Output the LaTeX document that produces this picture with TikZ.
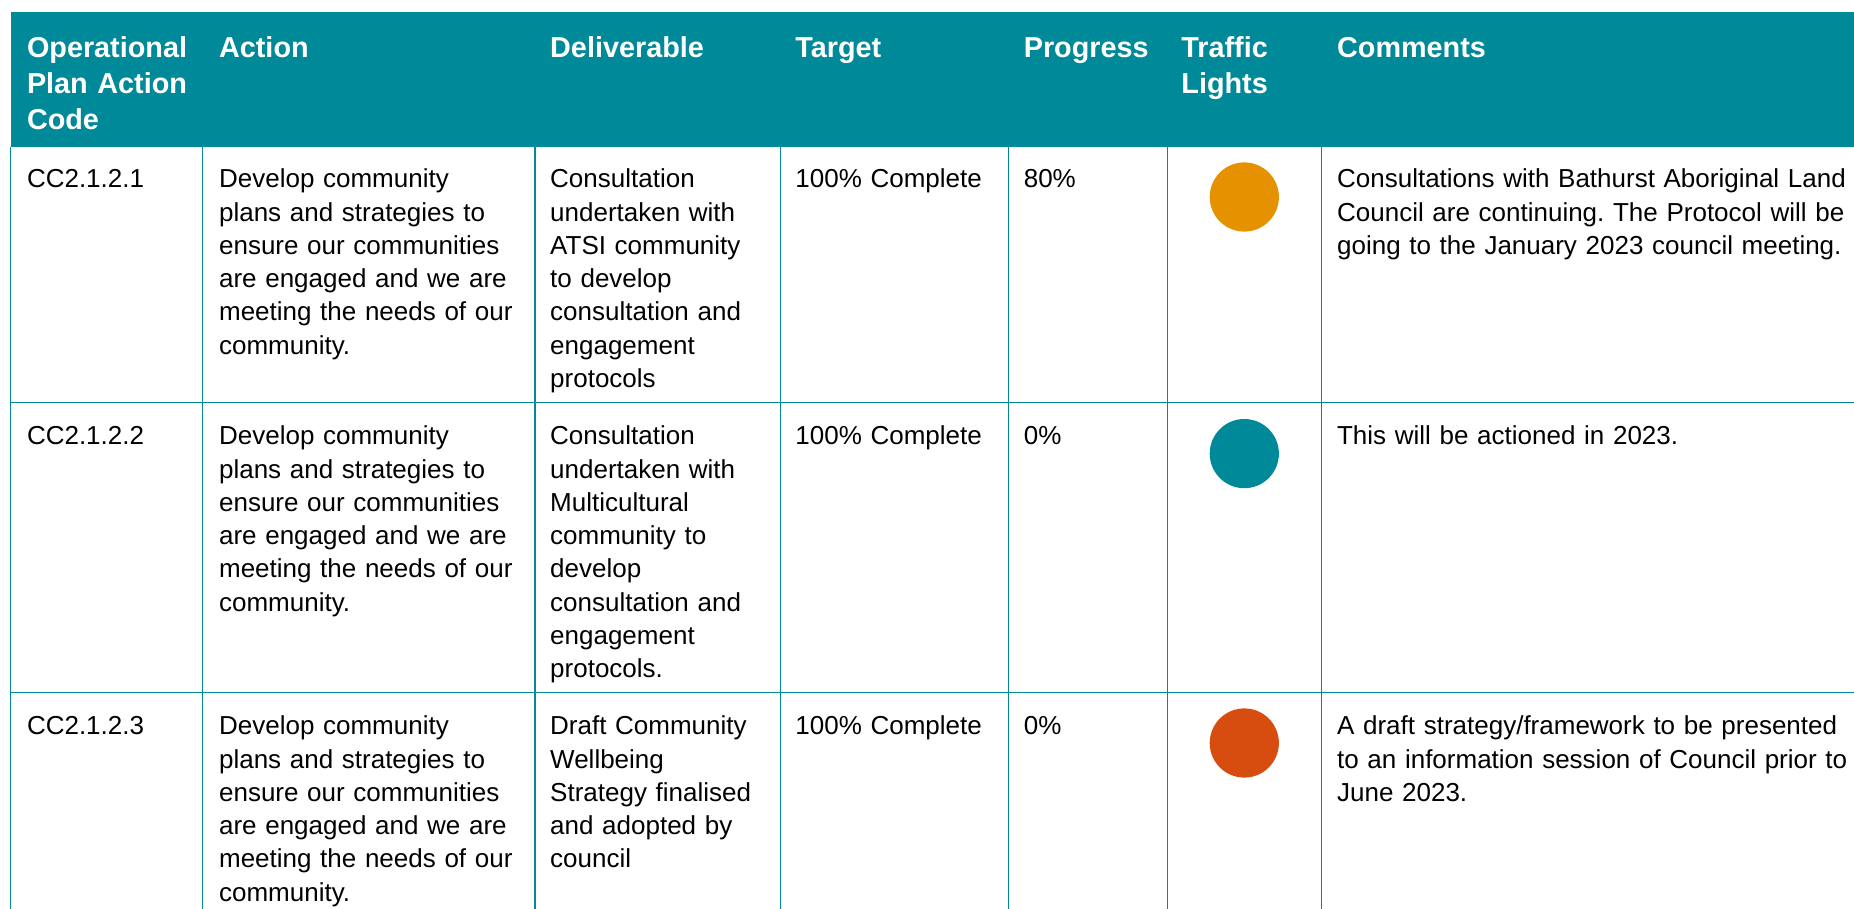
\documentclass[tikz,border=0pt]{standalone}
\usepackage{fontspec}
\setmainfont{Liberation Sans}
\definecolor{opteal}{HTML}{008A99}
\definecolor{lampamber}{HTML}{E69200}
\definecolor{lampred}{HTML}{D64D0F}
\frenchspacing

\begin{document}
\begin{tikzpicture}[x=0.5pt, y=-0.5pt]
  \tikzset{
    tablerule/.style={draw=opteal, line width=0.6pt},
    head/.style={anchor=north west, inner sep=0pt, text=white, text width=330pt, align=left,
      font=\fontsize{14.4}{18}\selectfont\bfseries, execute at begin node=\strut},
    cell/.style={anchor=north west, inner sep=0pt, text width=330pt, align=left,
      font=\fontsize{13}{16.65}\selectfont, execute at begin node=\strut},
    lamp/.style={circle, fill=#1, minimum size=34.6pt, inner sep=0pt}
  }
  \useasboundingbox (0,0) rectangle (1854,909);

  % header band and rules
  \fill[opteal] (10.6,11.7) rectangle (1854,146.7);
  \foreach \xx in {10.6,202.8,535,780.4,1008.6,1167.6,1321.3}
    \draw[tablerule] (\xx,146.7) -- (\xx,909);
  \foreach \yy in {402.3,692.3}
    \draw[tablerule] (10.6,\yy) -- (1854,\yy);

  % header
  \node[head] (hcode) at (26.6,32.1) {Operational\\Plan Action\\Code};
  \node[head] (haction) at (218.7,32.1) {Action};
  \node[head] (hdeliv) at (549.8,32.1) {Deliverable};
  \node[head] (htarget) at (795,32.1) {Target};
  \node[head] (hprog) at (1023.4,32.1) {Progress};
  \node[head] (hlights) at (1181,32.1) {Traffic\\Lights};
  \node[head] (hcomm) at (1336.7,32.1) {Comments};

  % row 1
  \node[cell] (code1) at (26.6,164) {CC2.1.2.1};
  \node[cell] (action1) at (218.7,164) {Develop community\\plans and strategies to\\ensure our communities\\are engaged and we are\\meeting the needs of our\\community.};
  \node[cell] (deliv1) at (549.8,164) {Consultation\\undertaken with\\ATSI community\\to develop\\consultation and\\engagement\\protocols};
  \node[cell] (target1) at (795,164) {100\% Complete};
  \node[cell] (prog1) at (1023.4,164) {80\%};
  \node[lamp=lampamber] (lamp1) at (1244.3,197) {};
  \node[cell] (comm1) at (1336.7,164) {Consultations with Bathurst Aboriginal Land\\Council are continuing. The Protocol will be\\going to the January 2023 council meeting.};

  % row 2
  \node[cell] (code2) at (26.6,421) {CC2.1.2.2};
  \node[cell] (action2) at (218.7,421) {Develop community\\plans and strategies to\\ensure our communities\\are engaged and we are\\meeting the needs of our\\community.};
  \node[cell] (deliv2) at (549.8,421) {Consultation\\undertaken with\\Multicultural\\community to\\develop\\consultation and\\engagement\\protocols.};
  \node[cell] (target2) at (795,421) {100\% Complete};
  \node[cell] (prog2) at (1023.4,421) {0\%};
  \node[lamp=opteal] (lamp2) at (1244.3,453.6) {};
  \node[cell] (comm2) at (1336.7,421) {This will be actioned in 2023.};

  % row 3
  \node[cell] (code3) at (26.6,711) {CC2.1.2.3};
  \node[cell] (action3) at (218.7,711) {Develop community\\plans and strategies to\\ensure our communities\\are engaged and we are\\meeting the needs of our\\community.};
  \node[cell] (deliv3) at (549.8,711) {Draft Community\\Wellbeing\\Strategy finalised\\and adopted by\\council};
  \node[cell] (target3) at (795,711) {100\% Complete};
  \node[cell] (prog3) at (1023.4,711) {0\%};
  \node[lamp=lampred] (lamp3) at (1244.3,743) {};
  \node[cell] (comm3) at (1336.7,711) {A draft strategy/framework to be presented\\to an information session of Council prior to\\June 2023.};
\end{tikzpicture}
\end{document}
